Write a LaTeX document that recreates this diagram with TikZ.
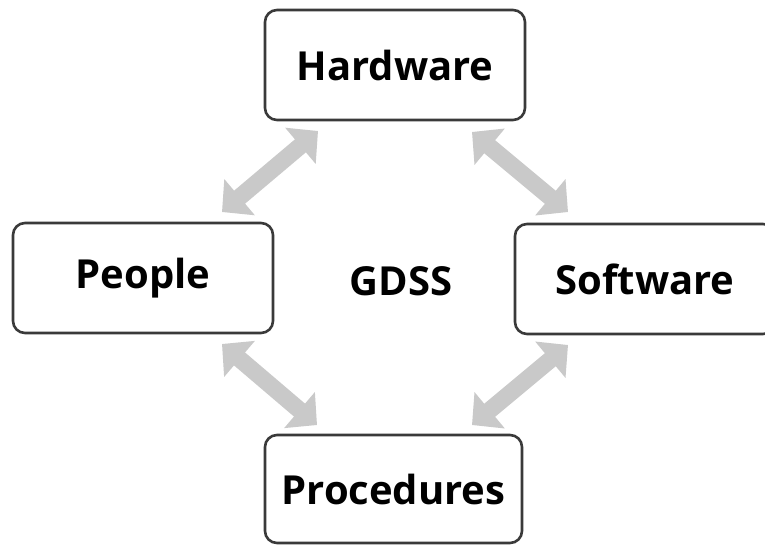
\documentclass[tikz,border=0pt]{standalone}
\usepackage{fontspec}
\setmainfont{Open Sans}
\usetikzlibrary{arrows.meta}
\definecolor{boxline}{HTML}{3A3A3A}
\definecolor{arrowgray}{HTML}{C9C9C9}
\tikzset{
  box/.style={draw=boxline, line width=2.6pt, rounded corners=12pt, fill=white,
    minimum width=260pt, minimum height=110pt, inner sep=0pt,
    font=\fontsize{40}{42}\selectfont\bfseries, text=black},
  label/.style={font=\fontsize{40}{42}\selectfont\bfseries, text=black},
  garrow/.style={draw=arrowgray, line width=17pt,
    {Triangle[width=46pt,length=23pt]}-{Triangle[width=46pt,length=23pt]}}
}
\begin{document}
\begin{tikzpicture}[x=1pt,y=-1pt]
\useasboundingbox (0,0) rectangle (765,544);
\fill[white] (0,0) rectangle (765,544);
\begin{scope}
\clip (0,0) rectangle (765,544);
\node[box] (hw) at (395,65) {Hardware};
\node[box] (pe) at (143,278) {People};
\node[box] (sw) at (645,279) {Software};
\node[box, minimum width=257pt, minimum height=108pt] (pr) at (393.5,489) {Procedures};
\end{scope}
\node[label] (gdss) at (401,281) {GDSS};
\coordinate (a1s) at (222,212);
\coordinate (a1e) at (318,131);
\coordinate (a2s) at (472,132);
\coordinate (a2e) at (568,212);
\coordinate (a3s) at (222,344);
\coordinate (a3e) at (317,425);
\coordinate (a4s) at (568,345);
\coordinate (a4e) at (472,425);
\draw[garrow] (a1s) -- (a1e);
\draw[garrow] (a2s) -- (a2e);
\draw[garrow] (a3s) -- (a3e);
\draw[garrow] (a4s) -- (a4e);
\end{tikzpicture}
\end{document}
